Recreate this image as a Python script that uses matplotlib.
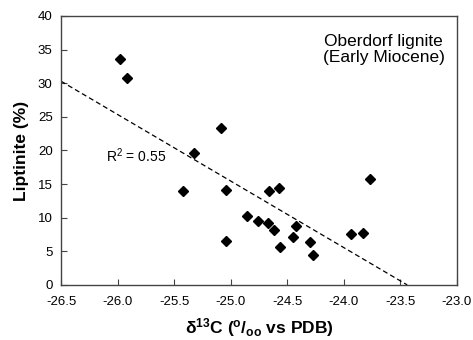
import matplotlib
matplotlib.use('Agg')
import matplotlib.pyplot as plt
import numpy as np

plt.rcParams['font.family'] = ['Liberation Sans', 'DejaVu Sans']
plt.rcParams['mathtext.default'] = 'regular'

# delta 13C vs liptinite
d13c = [-25.98, -25.92, -25.09, -25.32, -25.42, -25.04, -24.66, -24.57, -23.77,
        -24.86, -24.76, -24.67, -24.62, -24.42, -24.45, -25.04, -24.56, -24.30,
        -24.27, -23.94, -23.83]
liptinite = [33.6, 30.8, 23.3, 19.6, 14.0, 14.1, 14.0, 14.4, 15.7,
             10.2, 9.5, 9.2, 8.2, 8.7, 7.1, 6.5, 5.6, 6.4,
             4.5, 7.5, 7.7]

# regression line
slope = -9.9
intercept = -232.05

xticks = [-26.5, -26.0, -25.5, -25.0, -24.5, -24.0, -23.5, -23.0]
yticks = [0, 5, 10, 15, 20, 25, 30, 35, 40]

fig = plt.figure(figsize=(4.73, 3.40), dpi=100)
ax = fig.add_axes([0.129, 0.162, 0.837, 0.791])

x_end = -intercept / slope
lx = np.array([-26.5, x_end])
ax.plot(lx, slope * lx + intercept, '--', color='black', lw=0.9, dashes=(4, 2.5))
ax.plot(d13c, liptinite, 'D', color='black', markersize=4.6, ls='none')

ax.set_xlim(-26.5, -23.0)
ax.set_ylim(0, 40)
ax.set_xticks(xticks)
ax.set_xticklabels(['%.1f' % v for v in xticks])
ax.set_yticks(yticks)
ax.tick_params(direction='in', length=4, width=0.8, labelsize=9.5, color='#444444')
ax.tick_params(axis='x', pad=8)
ax.tick_params(axis='y', pad=6)
for s in ax.spines.values():
    s.set_color('#444444')
    s.set_linewidth(1.0)

ax.text(0.113, 0.48, r'R$^2$ = 0.55', transform=ax.transAxes, fontsize=10, ha='left', va='center')
ax.text(0.815, 0.875, 'Oberdorf lignite\n(Early Miocene)', transform=ax.transAxes,
        fontsize=12.5, ha='center', va='center', linespacing=1.1)

ax.set_xlabel(r'δ$^{13}$C ($^{o}$/$_{oo}$ vs PDB)', fontsize=12.5, fontweight='bold', labelpad=6)
ax.set_ylabel('Liptinite (%)', fontsize=12.5, fontweight='bold', labelpad=6)

fig.savefig('out.png', dpi=100)
